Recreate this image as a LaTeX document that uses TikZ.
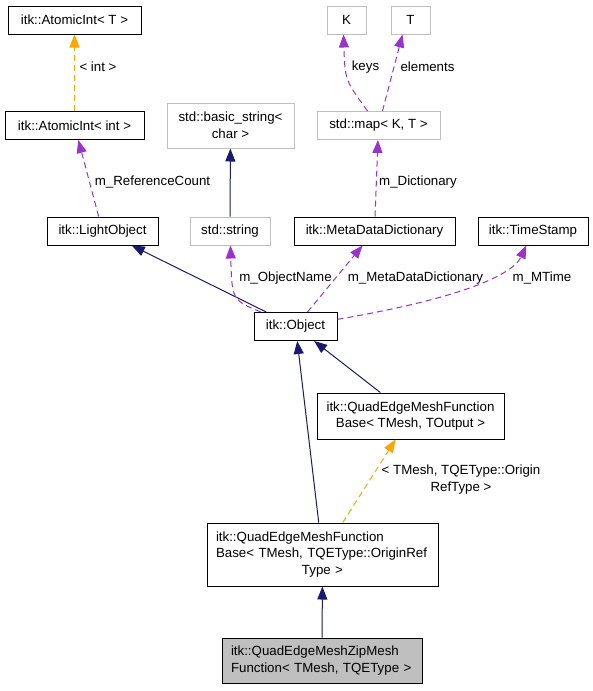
\documentclass[tikz,border=0pt]{standalone}
\usepackage{fontspec}
\setmainfont{Liberation Sans}
\usetikzlibrary{arrows.meta,calc}
\definecolor{inhblue}{HTML}{191970}
\definecolor{memberpurple}{HTML}{9A32CD}
\definecolor{tmplorange}{HTML}{FFA500}
\definecolor{missgray}{HTML}{BFBFBF}
\tikzstyle{classbox}=[draw=black,line width=1pt,fill=white,inner sep=0pt,minimum height=28pt]
\tikzstyle{extbox}=[classbox,draw=missgray]
\tikzstyle{inherit}=[draw,line width=1pt,inhblue,-{Triangle[length=13pt,width=10pt]}]
\tikzstyle{member}=[draw,line width=1pt,memberpurple,dash pattern=on 6pt off 4pt,-{Triangle[length=13pt,width=10pt]}]
\tikzstyle{templ}=[draw,line width=1pt,tmplorange,dash pattern=on 6pt off 4pt,-{Triangle[length=13pt,width=10pt]}]
\tikzstyle{weight}=[inner sep=0pt,align=center]
\begin{document}
\begin{tikzpicture}[x=1pt,y=-1pt,font=\fontsize{13.3}{16.6}\selectfont]
    \useasboundingbox (0,0) rectangle (593,691);

    % classes that are documented
    \foreach \pos/\name/\bw/\txt in {{(74.5,20)/aintT/133/{itk::AtomicInt< T >}},{(74.5,125.5)/aint/139/{itk::AtomicInt< int >}},
        {(102.5,231)/light/111/{itk::LightObject}},{(374.5,231)/mdd/161/{itk::MetaDataDictionary}},
        {(533,231)/timestamp/110/{itk::TimeStamp}},{(295.5,326.5)/object/83/{itk::Object}}}
        \node[classbox,minimum width=\bw pt] (\name) at \pos {\txt};

    % classes from outside
    \foreach \pos/\name/\bw/\txt in {{(230,231)/stdstring/80/{std::string}},{(346.5,20)/keyK/39/{K}},
        {(410.5,20)/keyT/39/{T}},{(378.5,125.5)/stdmap/123/{std::map< K, T >}}}
        \node[extbox,minimum width=\bw pt] (\name) at \pos {\txt};

    \node[extbox,minimum width=127pt,minimum height=45pt,align=center] (bstring) at (230.5,125.5) {std::basic\_string<\\char >};
    \node[classbox,minimum width=187pt,minimum height=46pt,align=center] (qebaseout) at (410.5,416) {itk::QuadEdgeMeshFunction\\Base< TMesh, TOutput >};
    \node[classbox,text width=213pt,inner xsep=9pt,minimum height=63pt,align=left] (qebaseref) at (322.5,554.5)
        {itk::QuadEdgeMeshFunction\\Base< TMesh, TQEType::OriginRef\\\makebox[\linewidth][c]{Type >}};
    \node[classbox,fill=missgray,text width=182pt,inner xsep=9pt,minimum height=45pt,align=left] (zipmesh) at (322,660.5)
        {itk::QuadEdgeMeshZipMesh\\Function< TMesh, TQEType >};

    % inheritance
    \foreach \source/ \dest in {stdstring/bstring, object/light, qebaseout/object, qebaseref/object, zipmesh/qebaseref}
        \path[inherit] (\source) -- (\dest);

    % members
    \foreach \source/ \dest in {light/aint, object/mdd, mdd/stdmap}
        \path[member] (\source) -- (\dest);
    \path[member] (object) .. controls (232,300) .. (stdstring);
    \path[member] (object) .. controls (480,295) and (515,270) .. (timestamp);
    \path[member] ($(stdmap.north)+(-11,0)$) .. controls (345,80) .. ($(keyK.south)+(-3,0)$);
    \path[member] ($(stdmap.north)+(4,0)$) -- ($(keyT.south)+(-8,0)$);

    % template instances
    \path[templ] (aint) -- (aintT);
    \path[templ] (qebaseref) -- (qebaseout);

    % edge labels
    \foreach \pos/\name/\txt in {{(98,67)/lblint/{< int >}},{(152.5,182)/lblref/{m\_ReferenceCount}},
        {(365.5,67)/lblkeys/{keys}},{(427.5,67)/lblelem/{elements}},{(418,182)/lbldict/{m\_Dictionary}},
        {(285.5,278)/lblname/{m\_ObjectName}},{(415.5,278)/lblmdd/{m\_MetaDataDictionary}},
        {(542,278)/lbltime/{m\_MTime}},{(461,479.5)/lblorigin/{< TMesh, TQEType::Origin\\RefType >}}}
        \node[weight] (\name) at \pos {\txt};
\end{tikzpicture}
\end{document}
